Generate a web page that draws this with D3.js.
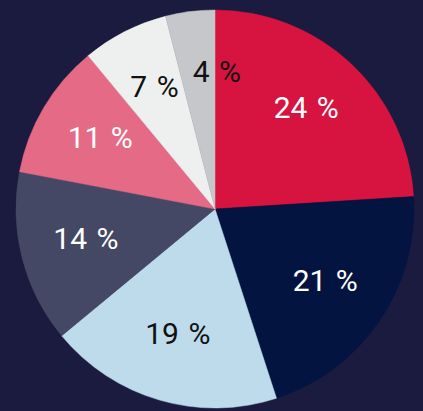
<!DOCTYPE html>
<html>
<head>
<meta charset="utf-8">
<script src="https://cdn.jsdelivr.net/npm/d3@7"></script>
<style>
  html, body { margin: 0; padding: 0; background: #1b1b3f; }
  svg { display: block; }
</style>
</head>
<body>
<svg width="423" height="411"></svg>
<script>
// slices, clockwise from 12 o'clock
const shares = [24, 21, 19, 14, 11, 7, 4];
const sliceColors = ["#d7143f", "#041440", "#bddbeb", "#454864", "#e56a86", "#eef0ef", "#c6c7ca"];
const labelColors = ["#fff", "#fff", "#111", "#fff", "#fff", "#111", "#111"];

let svg = d3.select("svg");
let width = +svg.attr("width"), height = +svg.attr("height");

let cx = 215, cy = 209, r = 199;
let g = svg.append("g").attr("transform", `translate(${cx},${cy})`);

let pie = d3.pie().sort(null).value(d => d);
let arcs = pie(shares);

let arc = d3.arc().innerRadius(0).outerRadius(r);

g.selectAll("path")
  .data(arcs)
  .enter()
  .append("path")
  .attr("d", arc)
  .attr("fill", (d, i) => sliceColors[i])
  .attr("stroke", (d, i) => sliceColors[i])
  .attr("stroke-width", 0.5);

// labels at ~0.67r, nudged along the arc if they hit an earlier one
let labelR = r * 0.67;
let placed = [];
let labels = g.selectAll("text")
  .data(arcs)
  .enter()
  .append("text")
  .attr("text-anchor", "middle")
  .attr("dy", "0.22em")
  .attr("fill", (d, i) => labelColors[i])
  .style("font-family", "Roboto, 'Noto Sans', sans-serif")
  .style("font-weight", 400)
  .style("font-size", "30px")
  .style("word-spacing", "2px")
  .text(d => d.data + " %");

labels.each(function (d) {
  let el = d3.select(this);
  let a = (d.startAngle + d.endAngle) / 2;
  let pad = 12;
  let box;
  const put = () => {
    el.attr("x", Math.sin(a) * labelR).attr("y", -Math.cos(a) * labelR);
    box = this.getBBox();
  };
  const hits = () => placed.some(p =>
    box.x < p.x + p.width + pad && box.x + box.width + pad > p.x &&
    box.y < p.y + p.height && box.y + box.height > p.y);
  put();
  while (hits() && a < d.endAngle) {
    a += Math.PI / 180;
    put();
  }
  placed.push(box);
});
</script>
</body>
</html>
